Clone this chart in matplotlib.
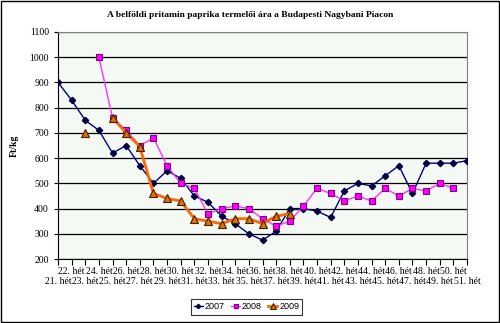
import matplotlib.pyplot as plt
import numpy as np

weeks = list(range(21, 52))
labels = ['%d. hét' % w for w in weeks]

y2007 = [900, 830, 750, 710, 620, 650, 570, 500, 550, 520, 450, 425, 370, 340, 300,
         275, 310, 400, 400, 390, 365, 470, 500, 490, 530, 570, 460, 580, 580, 580, 590]
y2008 = [None, None, None, 1000, 760, 710, 650, 680, 570, 500, 480, 380, 400, 410, 400,
         360, 330, 350, 410, 480, 460, 430, 450, 430, 480, 450, 480, 470, 500, 480, None]
y2009 = [None, None, 700, None, 760, 700, 645, 460, 440, 430, 360, 350, 340, 360, 360,
         340, 370, 380] + [None] * 13


def arr(v):
    return np.array([np.nan if a is None else a for a in v], dtype=float)


fig = plt.figure(figsize=(5.0, 3.23), dpi=100)
fig.patch.set_facecolor('white')
ax = fig.add_axes([0.116, 0.198, 0.818, 0.703])
ax.set_facecolor('#f4f9f4')

x = np.arange(len(weeks))
ax.plot(x, arr(y2007), color='#000080', lw=1.0, marker='D', ms=3.2,
        mfc='#000040', mec='#000040', label='2007', zorder=3)
ax.plot(x, arr(y2008), color='#ff33ff', lw=1.0, marker='s', ms=5,
        mfc='#ff00ff', mec='#800080', mew=0.8, label='2008', zorder=4)
ax.plot(x, arr(y2009), color='#ff6600', lw=2.0, marker='^', ms=6,
        mfc='#e07000', mec='#402000', mew=0.8, label='2009', zorder=5)

ax.set_xlim(0, len(weeks) - 1)
ax.set_ylim(200, 1100)
ax.set_yticks(range(200, 1101, 100))
ax.yaxis.grid(True, color='black', lw=0.9)
ax.set_axisbelow(True)
for s in ax.spines.values():
    s.set_color('#808080')
ax.spines['left'].set_color('black')
ax.spines['bottom'].set_color('black')

ax.set_xticks(x)
ax.set_xticklabels([''] * len(x))
for i, lab in enumerate(labels):
    off = -5.5 if i % 2 == 1 else -13
    ax.annotate(lab, (i, 200), xytext=(0, off), textcoords='offset points',
                ha='center', va='top', fontsize=7, family='Liberation Serif',
                annotation_clip=False)
ax.tick_params(axis='x', direction='out', length=4, width=0.8)
ax.tick_params(axis='y', direction='out', length=3, width=0.8, labelsize=7)
for t in ax.get_yticklabels():
    t.set_family('Liberation Serif')

ax.set_ylabel('Ft/kg', fontsize=7, family='Liberation Serif', fontweight='bold', labelpad=8)
fig.text(0.5, 0.955, 'A belföldi pritamin paprika termelői ára a Budapesti Nagybani Piacon',
         ha='center', va='center', fontsize=6.8, fontweight='bold', family='Liberation Serif')

leg = fig.legend(loc='center', bbox_to_anchor=(0.493, 0.05), ncol=3,
                 frameon=True, fancybox=False, edgecolor='black', handlelength=1.0,
                 columnspacing=0.7, handletextpad=0.2, borderpad=0.35, markerscale=0.7,
                 prop={'family': 'Liberation Sans', 'size': 6.5})
leg.get_frame().set_linewidth(0.8)

fig.add_artist(plt.Rectangle((0.002, 0.003), 0.996, 0.994, transform=fig.transFigure,
                             fill=False, edgecolor='black', lw=1.0))

fig.savefig('out.png', dpi=100)
